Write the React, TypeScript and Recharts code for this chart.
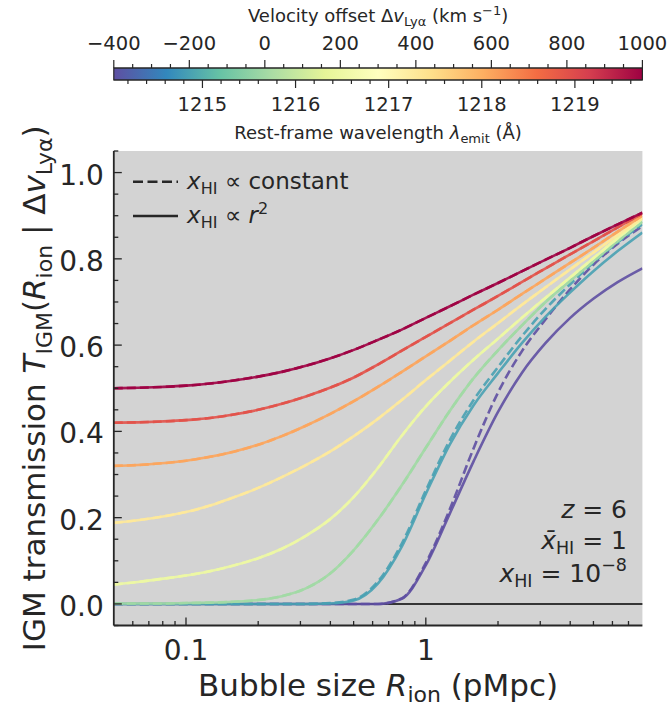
import {
  Area,
  CartesianGrid,
  ComposedChart,
  Line,
  LineChart,
  ReferenceArea,
  ReferenceLine,
  XAxis,
  YAxis,
} from "recharts";

const FONT = "'DejaVu Sans', sans-serif";
const INK = "#262626";
const PLOT_BG = "#d3d3d3";

// bubble radius grid (pMpc), 0.1 dex steps
const radius = [0.05, 0.063, 0.079, 0.1, 0.126, 0.158, 0.2, 0.251, 0.316, 0.398, 0.501, 0.631, 0.794, 1, 1.26, 1.58, 2, 2.51, 3.16, 3.98, 5.01, 6.31, 8];

// Lyα velocity offsets (km/s), one curve pair each
const velocities = [-400, -200, 0, 200, 400, 600, 800, 1000];
const lineColors = ["#5e4fa2", "#48a1b3", "#a1d9a4", "#edf8a3", "#fee99a", "#fca55d", "#e2524a", "#9e0142"];

// T_IGM with x_HI ∝ r^2
const r2Minus400 = [0, 0, 0, 0, 0, 0, 0, 0, 0, 0, 0, 0, 0.012, 0.09, 0.21, 0.33, 0.445, 0.535, 0.605, 0.662, 0.708, 0.746, 0.778];
const r2Minus200 = [0, 0, 0, 0, 0, 0, 0, 0, 0, 0.001, 0.008, 0.047, 0.133, 0.255, 0.37, 0.46, 0.535, 0.604, 0.666, 0.721, 0.772, 0.818, 0.861];
const r2Zero = [0.001, 0.001, 0.001, 0.002, 0.003, 0.005, 0.009, 0.018, 0.036, 0.07, 0.125, 0.195, 0.275, 0.362, 0.448, 0.523, 0.588, 0.645, 0.7, 0.748, 0.795, 0.841, 0.886];
const r2Plus200 = [0.045, 0.051, 0.058, 0.066, 0.076, 0.089, 0.106, 0.128, 0.158, 0.196, 0.248, 0.315, 0.39, 0.458, 0.515, 0.566, 0.615, 0.663, 0.71, 0.756, 0.802, 0.848, 0.893];
const r2Plus400 = [0.188, 0.194, 0.202, 0.213, 0.228, 0.247, 0.269, 0.294, 0.322, 0.353, 0.389, 0.429, 0.473, 0.519, 0.564, 0.608, 0.651, 0.693, 0.734, 0.775, 0.815, 0.855, 0.895];
const r2Plus600 = [0.32, 0.322, 0.326, 0.332, 0.341, 0.353, 0.369, 0.389, 0.413, 0.44, 0.47, 0.503, 0.538, 0.574, 0.61, 0.646, 0.682, 0.718, 0.754, 0.79, 0.826, 0.863, 0.9];
const r2Plus800 = [0.42, 0.421, 0.423, 0.426, 0.431, 0.439, 0.45, 0.464, 0.481, 0.501, 0.525, 0.555, 0.587, 0.619, 0.651, 0.682, 0.714, 0.746, 0.778, 0.81, 0.841, 0.873, 0.905];
const r2Plus1000 = [0.5, 0.501, 0.503, 0.506, 0.511, 0.518, 0.527, 0.538, 0.552, 0.569, 0.589, 0.612, 0.636, 0.663, 0.69, 0.717, 0.744, 0.771, 0.798, 0.825, 0.853, 0.88, 0.907];

// T_IGM with constant x_HI (differs visibly only for the bluest offsets)
const constMinus400 = [0, 0, 0, 0, 0, 0, 0, 0, 0, 0, 0, 0, 0.013, 0.095, 0.22, 0.36, 0.49, 0.585, 0.66, 0.728, 0.787, 0.835, 0.876];
const constMinus200 = [0, 0, 0, 0, 0, 0, 0, 0, 0, 0.002, 0.01, 0.052, 0.14, 0.263, 0.38, 0.472, 0.549, 0.62, 0.684, 0.74, 0.792, 0.838, 0.88];

const rSquaredSets = [r2Minus400, r2Minus200, r2Zero, r2Plus200, r2Plus400, r2Plus600, r2Plus800, r2Plus1000];
const constantSets = [constMinus400, constMinus200, r2Zero, r2Plus200, r2Plus400, r2Plus600, r2Plus800, r2Plus1000];

// axis ticks
const xMajor = [0.1, 1];
const xMinor = [0.06, 0.07, 0.08, 0.09, 0.2, 0.3, 0.4, 0.5, 0.6, 0.7, 0.8, 0.9, 2, 3, 4, 5, 6, 7];
const yMajor = [0, 0.2, 0.4, 0.6, 0.8, 1.0];
const yMinor = [-0.05, 0.05, 0.1, 0.15, 0.25, 0.3, 0.35, 0.45, 0.5, 0.55, 0.65, 0.7, 0.75, 0.85, 0.9, 0.95, 1.05];

// colorbar
const velMajor = [-400, -200, 0, 200, 400, 600, 800, 1000];
const lamMajor = [1215, 1216, 1217, 1218, 1219];
const spectralR = ["#5e4fa2", "#3288bd", "#66c2a5", "#abdda4", "#e6f598", "#ffffbf", "#fee08b", "#fdae61", "#f46d43", "#d53e4f", "#9e0142"];

const LYA = 1215.67;
const C_KMS = 299792.458;
const toLambda = (v: number) => LYA * (1 + v / C_KMS);

const velMinor: number[] = [];
for (let v = -400; v <= 1000; v += 50) if (!velMajor.includes(v)) velMinor.push(v);
const lamMinor: number[] = [];
for (let l = 12142; l <= 12197; l += 2) if (l % 10 !== 0) lamMinor.push(l / 10);

const rows = radius.map((r, i) => {
  const row: Record<string, number> = { r };
  velocities.forEach((_, k) => {
    row[`c${k}`] = constantSets[k][i];
    row[`s${k}`] = rSquaredSets[k][i];
  });
  return row;
});

// the bar spans the full velocity range at unit height
const barEnds = [-400, 1000].map((v) => ({ v, lam: toLambda(v), full: 1 }));

const fmtY = (v: number) => v.toFixed(1);
const fmtVel = (v: number) => (v < 0 ? `\u2212${-v}` : `${v}`);

function LeftTick({ x = 0, y = 0, payload }: any) {
  const major = yMajor.includes(payload.value);
  return (
    <g>
      <line x1={x} x2={x + (major ? 8 : 4.5)} y1={y} y2={y} stroke={INK} strokeWidth={1.3} />
      {major && (
        <text x={x - 10} y={y + 12} textAnchor="end" fontSize={28} fontFamily={FONT} fill={INK}>
          {fmtY(payload.value)}
        </text>
      )}
    </g>
  );
}

function RightTick({ x = 0, y = 0, payload }: any) {
  const major = yMajor.includes(payload.value);
  return <line x1={x} x2={x - (major ? 8 : 4.5)} y1={y} y2={y} stroke={INK} strokeWidth={1.3} />;
}

function BottomTick({ x = 0, y = 0, payload }: any) {
  const major = xMajor.includes(payload.value);
  return (
    <g>
      <line x1={x} x2={x} y1={y} y2={y - (major ? 8 : 4.5)} stroke={INK} strokeWidth={1.3} />
      {major && (
        <text x={x} y={y + 34} textAnchor="middle" fontSize={28} fontFamily={FONT} fill={INK}>
          {payload.value}
        </text>
      )}
    </g>
  );
}

function TopTick({ x = 0, y = 0, payload }: any) {
  const major = xMajor.includes(payload.value);
  return <line x1={x} x2={x} y1={y} y2={y + (major ? 8 : 4.5)} stroke={INK} strokeWidth={1.3} />;
}

function VelocityTick({ x = 0, y = 0, payload }: any) {
  const major = velMajor.includes(payload.value);
  return (
    <g>
      <line x1={x} x2={x} y1={y} y2={y - (major ? 8 : 4)} stroke={INK} strokeWidth={1.2} />
      {major && (
        <text x={x} y={y - 18} textAnchor="middle" fontSize={19.5} fontFamily={FONT} fill={INK}>
          {fmtVel(payload.value)}
        </text>
      )}
    </g>
  );
}

function WavelengthTick({ x = 0, y = 0, payload }: any) {
  const major = lamMajor.includes(payload.value);
  return (
    <g>
      <line x1={x} x2={x} y1={y} y2={y + (major ? 8 : 4)} stroke={INK} strokeWidth={1.2} />
      {major && (
        <text x={x} y={y + 31} textAnchor="middle" fontSize={19.5} fontFamily={FONT} fill={INK}>
          {payload.value}
        </text>
      )}
    </g>
  );
}

function VelocityTitle({ viewBox }: any) {
  const { x, y, width } = viewBox;
  return (
    <text x={x + width / 2} y={y + 22} textAnchor="middle" fontSize={18} fontFamily={FONT} fill={INK}>
      Velocity offset Δ<tspan fontStyle="italic">v</tspan>
      <tspan fontSize={13} dy={4}>Lyα</tspan>
      <tspan dy={-4}> (km s</tspan>
      <tspan fontSize={13} dy={-7}>−1</tspan>
      <tspan dy={7}>)</tspan>
    </text>
  );
}

function WavelengthTitle({ viewBox }: any) {
  const { x, y, width } = viewBox;
  return (
    <text x={x + width / 2} y={y + 59} textAnchor="middle" fontSize={18} fontFamily={FONT} fill={INK}>
      Rest-frame wavelength <tspan fontStyle="italic">λ</tspan>
      <tspan fontSize={13} dy={4}>emit</tspan>
      <tspan dy={-4}> (Å)</tspan>
    </text>
  );
}

function XTitle({ viewBox }: any) {
  const { x, y, width } = viewBox;
  return (
    <text x={x + width / 2} y={y + 70} textAnchor="middle" fontSize={31} fontFamily={FONT} fill={INK}>
      Bubble size <tspan fontStyle="italic">R</tspan>
      <tspan fontSize={22} dy={6}>ion</tspan>
      <tspan dy={-6}> (pMpc)</tspan>
    </text>
  );
}

function YTitle({ viewBox }: any) {
  const { y, height } = viewBox;
  const cx = 45;
  const cy = y + height / 2;
  return (
    <text x={cx} y={cy} transform={`rotate(-90, ${cx}, ${cy})`} textAnchor="middle" fontSize={31} fontFamily={FONT} fill={INK}>
      IGM transmission <tspan fontStyle="italic">T</tspan>
      <tspan fontSize={22} dy={7}>IGM</tspan>
      <tspan dy={-7}>(</tspan>
      <tspan fontStyle="italic">R</tspan>
      <tspan fontSize={22} dy={7}>ion</tspan>
      <tspan dy={-7}> | Δ</tspan>
      <tspan fontStyle="italic">v</tspan>
      <tspan fontSize={22} dy={7}>Lyα</tspan>
      <tspan dy={-7}>)</tspan>
    </text>
  );
}

function Colorbar() {
  return (
    <ComposedChart width={668} height={150} data={barEnds} margin={{ top: 0, right: 25.6, bottom: 0, left: 113.8 }}>
      <defs>
        <linearGradient id="spectral-r" x1="0" x2="1" y1="0" y2="0">
          {spectralR.map((c, i) => (
            <stop key={c} offset={i / (spectralR.length - 1)} stopColor={c} />
          ))}
        </linearGradient>
      </defs>
      <XAxis
        xAxisId="vel"
        orientation="top"
        dataKey="v"
        type="number"
        domain={[-400, 1000]}
        height={68}
        ticks={[...velMajor, ...velMinor]}
        interval={0}
        tickSize={0}
        tickMargin={0}
        tickLine={false}
        axisLine={{ stroke: INK, strokeWidth: 1.2 }}
        tick={(p: any) => <VelocityTick {...p} />}
        label={(p: any) => <VelocityTitle {...p} />}
      />
      <XAxis
        xAxisId="lam"
        orientation="bottom"
        dataKey="lam"
        type="number"
        domain={[toLambda(-400), toLambda(1000)]}
        allowDataOverflow
        height={70}
        ticks={[...lamMajor, ...lamMinor]}
        interval={0}
        tickSize={0}
        tickMargin={0}
        tickLine={false}
        axisLine={{ stroke: INK, strokeWidth: 1.2 }}
        tick={(p: any) => <WavelengthTick {...p} />}
        label={(p: any) => <WavelengthTitle {...p} />}
      />
      <YAxis hide type="number" domain={[0, 1]} width={0} />
      <Area
        xAxisId="vel"
        dataKey="full"
        type="linear"
        baseValue={0}
        fill="url(#spectral-r)"
        fillOpacity={1}
        stroke="none"
        dot={false}
        activeDot={false}
        isAnimationActive={false}
      />
      <ReferenceArea
        xAxisId="vel"
        x1={-400}
        x2={1000}
        y1={0}
        y2={1}
        ifOverflow="visible"
        fill="none"
        stroke={INK}
        strokeWidth={1.2}
      />
    </ComposedChart>
  );
}

function TransmissionChart() {
  return (
    <LineChart width={668} height={707} data={rows} margin={{ top: 151, right: 25.6, bottom: 0, left: 0 }}>
      <CartesianGrid fill={PLOT_BG} horizontal={false} vertical={false} />
      <XAxis
        dataKey="r"
        type="number"
        scale="log"
        domain={[0.05, 8]}
        allowDataOverflow
        height={81.5}
        ticks={[...xMajor, ...xMinor]}
        interval={0}
        tickSize={0}
        tickMargin={0}
        tickLine={false}
        axisLine={{ stroke: INK, strokeWidth: 1.8 }}
        tick={(p: any) => <BottomTick {...p} />}
        label={(p: any) => <XTitle {...p} />}
      />
      <XAxis
        xAxisId="top"
        orientation="top"
        dataKey="r"
        type="number"
        scale="log"
        domain={[0.05, 8]}
        allowDataOverflow
        height={0}
        ticks={[...xMajor, ...xMinor]}
        interval={0}
        tickSize={0}
        tickMargin={0}
        tickLine={false}
        axisLine={{ stroke: INK, strokeWidth: 1.8 }}
        tick={(p: any) => <TopTick {...p} />}
      />
      <YAxis
        type="number"
        domain={[-0.05, 1.05]}
        allowDataOverflow
        width={113.8}
        ticks={[...yMajor, ...yMinor]}
        interval={0}
        tickSize={0}
        tickMargin={0}
        tickLine={false}
        axisLine={{ stroke: INK, strokeWidth: 1.8 }}
        tick={(p: any) => <LeftTick {...p} />}
        label={(p: any) => <YTitle {...p} />}
      />
      <YAxis
        yAxisId="right"
        orientation="right"
        type="number"
        domain={[-0.05, 1.05]}
        allowDataOverflow
        width={0}
        ticks={[...yMajor, ...yMinor]}
        interval={0}
        tickSize={0}
        tickMargin={0}
        tickLine={false}
        axisLine={{ stroke: INK, strokeWidth: 1.8 }}
        tick={(p: any) => <RightTick {...p} />}
      />
      <ReferenceLine y={0} stroke="#000" strokeWidth={1.5} />
      {velocities.flatMap((v, k) => [
        <Line
          key={`c${v}`}
          dataKey={`c${k}`}
          type="monotone"
          stroke={lineColors[k]}
          strokeOpacity={0.9}
          strokeWidth={2.6}
          strokeDasharray="9 4"
          dot={false}
          activeDot={false}
          isAnimationActive={false}
        />,
        <Line
          key={`s${v}`}
          dataKey={`s${k}`}
          type="monotone"
          stroke={lineColors[k]}
          strokeOpacity={0.9}
          strokeWidth={2.6}
          dot={false}
          activeDot={false}
          isAnimationActive={false}
        />,
      ])}
    </LineChart>
  );
}

function Annotations() {
  return (
    <svg width={668} height={707} style={{ position: "absolute", left: 0, top: 0, pointerEvents: "none" }}>
      <g fontFamily={FONT} fill={INK}>
        <line x1={133} x2={178} y1={181.7} y2={181.7} stroke={INK} strokeWidth={2.6} strokeDasharray="10 4.5" />
        <text x={187} y={188.5} fontSize={23}>
          <tspan fontStyle="italic">x</tspan>
          <tspan fontSize={16} dy={5}>HI</tspan>
          <tspan dy={-5}> ∝ constant</tspan>
        </text>
        <line x1={133} x2={178} y1={216} y2={216} stroke={INK} strokeWidth={2.6} />
        <text x={187} y={222.8} fontSize={23}>
          <tspan fontStyle="italic">x</tspan>
          <tspan fontSize={16} dy={5}>HI</tspan>
          <tspan dy={-5}> ∝ </tspan>
          <tspan fontStyle="italic">r</tspan>
          <tspan fontSize={16} dy={-9}>2</tspan>
        </text>

        <text x={627} y={518} fontSize={25} textAnchor="end">
          <tspan fontStyle="italic">z</tspan> = 6
        </text>
        <text x={627} y={549} fontSize={25} textAnchor="end">
          <tspan fontStyle="italic">{"x\u0304"}</tspan>
          <tspan fontSize={17.5} dy={5}>HI</tspan>
          <tspan dy={-5}> = 1</tspan>
        </text>
        <text x={627} y={582} fontSize={25} textAnchor="end">
          <tspan fontStyle="italic">x</tspan>
          <tspan fontSize={17.5} dy={5}>HI</tspan>
          <tspan dy={-5}> = 10</tspan>
          <tspan fontSize={17.5} dy={-11}>−8</tspan>
        </text>
      </g>
    </svg>
  );
}

export default function App() {
  return (
    <div style={{ position: "absolute", left: 0, top: 0, width: 668, height: 707, background: "#fff" }}>
      <div style={{ position: "absolute", left: 0, top: 0 }}>
        <Colorbar />
      </div>
      <div style={{ position: "absolute", left: 0, top: 0 }}>
        <TransmissionChart />
      </div>
      <Annotations />
    </div>
  );
}
